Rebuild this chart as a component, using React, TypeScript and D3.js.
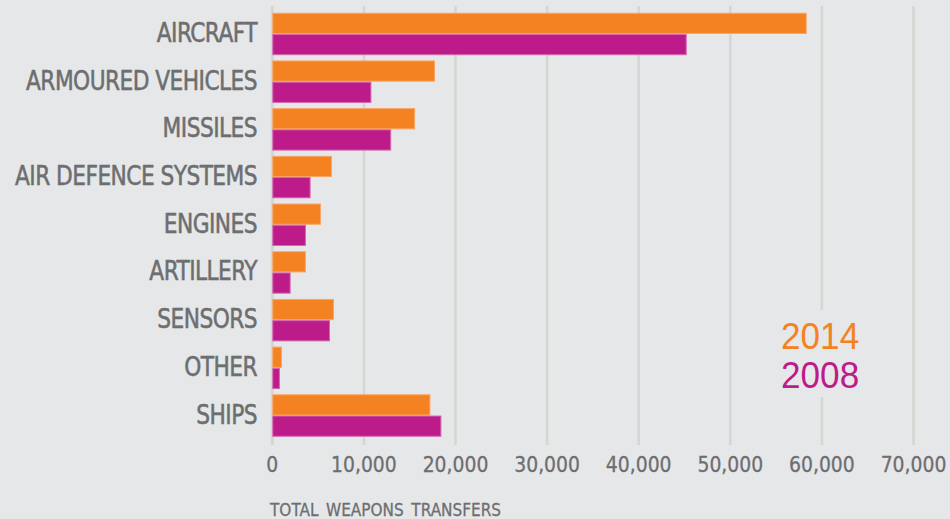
import React from 'react';
import * as d3 from 'd3';

const categories = [
  'AIRCRAFT',
  'ARMOURED VEHICLES',
  'MISSILES',
  'AIR DEFENCE SYSTEMS',
  'ENGINES',
  'ARTILLERY',
  'SENSORS',
  'OTHER',
  'SHIPS',
];
const series = ['2014', '2008'];
const values2014 = [58340, 17760, 15590, 6510, 5310, 3670, 6730, 1050, 17260];
const values2008 = [45240, 10820, 12980, 4180, 3670, 2000, 6300, 830, 18460];
const xTicks = [0, 10000, 20000, 30000, 40000, 50000, 60000, 70000];

const colors: Record<string, string> = { '2014': '#f58220', '2008': '#bd1a8a' };
const strokes: Record<string, string> = { '2014': '#f8a466', '2008': '#d466ad' };

const W = 950;
const H = 519;
const bg = '#e6e7e9';
const grid = '#d5d6d2';
const textGray = '#6d6e70';
const narrow = '"Liberation Sans Narrow", "DejaVu Sans Condensed", "Arial Narrow", sans-serif';

export default function App() {
  const x = d3.scaleLinear().domain([0, 70000]).range([272.3, 913.5]);
  const y = d3.scaleBand<string>().domain(categories).range([7.5, 442]).padding(0.11);
  const ySub = d3.scaleBand<string>().domain(series).range([0, y.bandwidth()]);
  const fmt = d3.format(',');

  const rows = categories.map((c, i) => ({ c, v: { '2014': values2014[i], '2008': values2008[i] } as Record<string, number> }));

  return (
    <svg width={W} height={H} style={{ position: 'absolute', left: 0, top: 0, background: bg }}>
      <rect width={W} height={H} fill={bg} />

      {/* grid */}
      {xTicks.map(t => (
        <line key={t} x1={x(t)} x2={x(t)} y1={6} y2={445} stroke={grid} strokeWidth={t === 0 ? 3 : 2.5} />
      ))}

      {/* bars */}
      {rows.map(r => (
        <g key={r.c} transform={`translate(0,${y(r.c)})`}>
          {series.map(s => (
            <rect
              key={s}
              x={x(0) + 0.5}
              y={ySub(s)! + 0.5}
              width={x(r.v[s]) - x(0) - 1}
              height={ySub.bandwidth() - 1}
              fill={colors[s]}
              stroke={strokes[s]}
              strokeWidth={1}
            />
          ))}
        </g>
      ))}

      {/* category labels */}
      {categories.map(c => (
        <g key={c} transform={`translate(257,${y(c)! + y.bandwidth() / 2 + 8}) scale(0.93,1)`}>
          <text
            textAnchor="end"
            fontFamily={narrow}
            fontSize={26}
            letterSpacing={-0.6}
            fill={textGray}
            stroke={textGray}
            strokeWidth={0.5}
          >
            {c}
          </text>
        </g>
      ))}

      {/* tick labels */}
      {xTicks.map(t => (
        <g key={t} transform={`translate(${x(t)},471.5) scale(0.95,1)`}>
          <text
            textAnchor="middle"
            fontFamily={narrow}
            fontSize={22}
            fill={textGray}
            stroke={textGray}
            strokeWidth={0.3}
          >
            {fmt(t)}
          </text>
        </g>
      ))}

      <g transform="translate(270,516) scale(0.92,1)">
        <text fontFamily={narrow} fontSize={18.5} fill={textGray} stroke={textGray} strokeWidth={0.3} wordSpacing={3}>
          TOTAL WEAPONS TRANSFERS
        </text>
      </g>

      {/* legend */}
      <rect x={772} y={310} width={96} height={87} fill={bg} />
      {series.map((s, i) => (
        <g key={s} transform={`translate(781,${349 + i * 39}) scale(0.95,1)`}>
          <text fontFamily='"Liberation Sans", Arial, sans-serif' fontSize={37} fill={colors[s]}>
            {s}
          </text>
        </g>
      ))}
    </svg>
  );
}
